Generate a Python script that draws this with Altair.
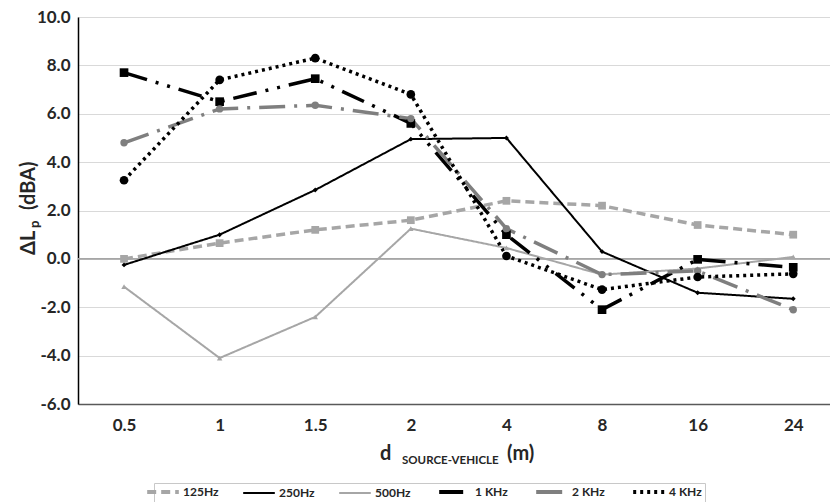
import altair as alt
import pandas as pd

distances = ["0.5", "1", "1.5", "2", "4", "8", "16", "24"]
series = ["125Hz", "250Hz", "500Hz", "1 KHz", "2 KHz", "4 KHz"]

v125 = [0.0, 0.65, 1.2, 1.6, 2.4, 2.2, 1.4, 1.0]
v250 = [-0.25, 1.0, 2.85, 4.95, 5.0, 0.3, -1.4, -1.65]
v500 = [-1.15, -4.1, -2.4, 1.25, 0.45, -0.65, -0.4, 0.08]
v1k = [7.7, 6.5, 7.45, 5.6, 1.0, -2.1, -0.02, -0.35]
v2k = [4.8, 6.2, 6.35, 5.8, 1.25, -0.65, -0.5, -2.1]
v4k = [3.25, 7.4, 8.3, 6.8, 0.12, -1.27, -0.75, -0.62]

colors = ["#a6a6a6", "#000000", "#a6a6a6", "#000000", "#7f7f7f", "#000000"]
dashes = [[9, 5], [1, 0], [1, 0], [24, 9, 3, 9, 3, 9], [26, 9, 3, 9], [3, 4]]
widths = [3.5, 2.0, 2.0, 3.5, 3.5, 3.5]
shapes = ["square", "diamond", "triangle-up", "square", "circle", "circle"]
sizes = [60, 24, 30, 75, 55, 75]

rows = []
for s, w, vals in zip(series, widths, [v125, v250, v500, v1k, v2k, v4k]):
    for i, (d, v) in enumerate(zip(distances, vals)):
        rows.append({"series": s, "dist": d, "value": v, "w": w, "idx": i})
df = pd.DataFrame(rows)

FONT = "Lato"

xenc = alt.X("dist:O", sort=distances,
             scale=alt.Scale(type="point", padding=0.433, align=0.556),
             axis=alt.Axis(title=None, labelAngle=0, ticks=False, grid=False,
                           labelFont=FONT, labelFontSize=17, labelFontWeight="bold",
                           labelColor="#262626", labelPadding=13,
                           domainColor="#595959", domainWidth=1.5))
yenc = alt.Y("value:Q",
             scale=alt.Scale(domain=[-6, 10], nice=False, zero=False),
             axis=alt.Axis(title=None, values=list(range(-6, 11, 2)),
                           labelExpr="replace(format(datum.value, '.1f'), '\u2212', '-')",
                           ticks=False, gridColor="#d9d9d9", gridWidth=1.2,
                           labelFont=FONT, labelFontSize=17, labelFontWeight="bold",
                           labelColor="#262626", labelPadding=8,
                           domainColor="#000000", domainWidth=1.5))

legend = alt.Legend(
    title=None, orient="none", legendX=76, legendY=466, direction="horizontal",
    columns=6, symbolType="stroke", symbolSize=1000, labelFont=FONT,
    labelFontSize=12, labelFontWeight="bold", labelColor="#262626",
    strokeColor="#c8c8c8", padding=3, columnPadding=20, labelOffset=14,
    fillColor="white",
    symbolStrokeWidth={"expr": "datum.value == '250Hz' || datum.value == '500Hz' ? 2 : 4"},
)

base = alt.Chart(df)

zero = alt.Chart(pd.DataFrame({"z": [0]})).mark_rule(color="#a6a6a6", strokeWidth=1.8).encode(
    y=alt.Y("z:Q", scale=alt.Scale(domain=[-6, 10], nice=False))
)

lines = base.mark_line().encode(
    x=xenc,
    y=yenc,
    color=alt.Color("series:N", sort=series,
                    scale=alt.Scale(domain=series, range=colors), legend=legend),
    strokeDash=alt.StrokeDash("series:N", sort=series,
                              scale=alt.Scale(domain=series, range=dashes), legend=legend),
    strokeWidth=alt.StrokeWidth("w:Q", scale=None),
    order=alt.Order("idx:Q"),
)

point_layers = []
for s, c, sh, sz in zip(series, colors, shapes, sizes):
    point_layers.append(
        base.transform_filter(alt.datum.series == s)
        .mark_point(shape=sh, color=c, filled=True, opacity=1, size=sz)
        .encode(x=alt.X("dist:O", sort=distances), y="value:Q")
    )

def txt(text, x, y, size, angle=0):
    return alt.Chart(pd.DataFrame({"t": [text]})).mark_text(
        font=FONT, fontSize=size, fontWeight="bold", color="#262626",
        align="left", baseline="alphabetic", angle=angle
    ).encode(text="t:N", x=alt.value(x), y=alt.value(y))

titles = [
    txt("d", 302, 443, 20),
    txt("SOURCE-VEHICLE", 324, 447, 11.5),
    txt("(m)", 429, 443, 20),
    txt("ΔL", -43, 238, 20, 270),
    txt("p", -39, 211, 13, 270),
    txt("(dBA)", -43, 193, 20, 270),
]

chart = alt.layer(zero, lines, *point_layers, *titles).properties(
    width=752, height=387,
    autosize=alt.AutoSizeParams(type="none"),
    padding={"left": 78, "top": 17, "right": 0, "bottom": 98},
).configure_view(stroke=None).configure(background="white")

chart.save("out.html", embed_options={"renderer": "svg", "actions": False})
